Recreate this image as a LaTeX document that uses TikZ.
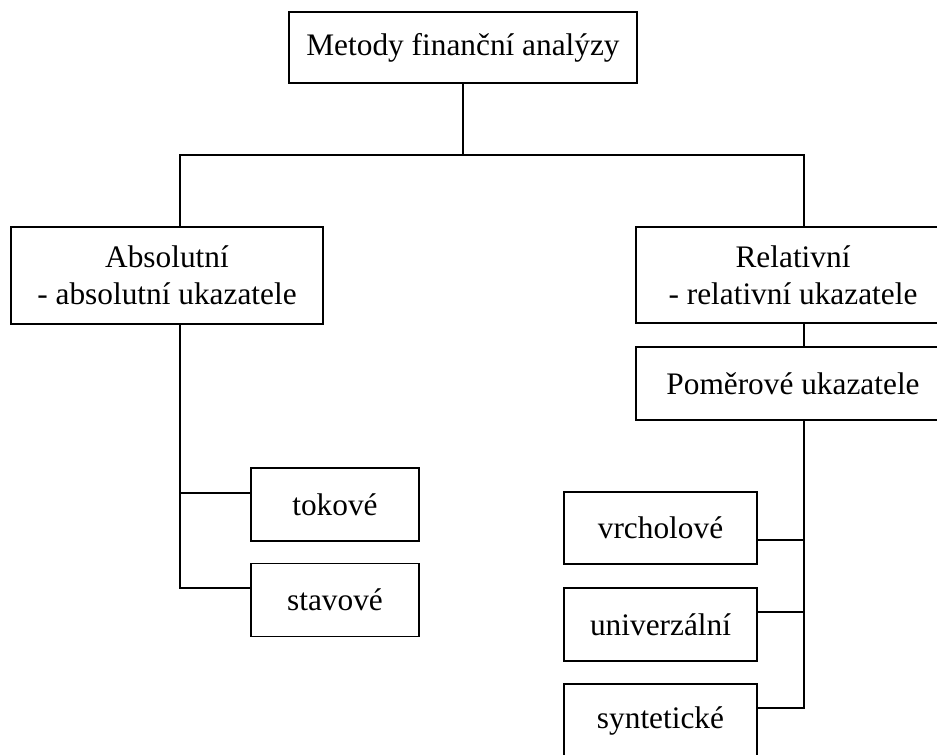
\documentclass[tikz,border=0pt]{standalone}
\usepackage{fontspec}
\setmainfont{Liberation Serif}
\begin{document}
\begin{tikzpicture}[x=0.75pt,y=-0.75pt,
  box/.style={draw, rectangle, line width=1.3pt, inner sep=0pt, align=center,
    font=\fontsize{23.5}{27.5}\selectfont},
  conn/.style={line width=1.3pt}]
\useasboundingbox (0,0) rectangle (937,754);
\clip (0,0) rectangle (937,754);

\node[box, minimum width=261pt, minimum height=53.25pt] (M) at (463,47.5) {Metody finanční analýzy};
\node[box, minimum width=234pt, minimum height=72.75pt] (A) at (167,275.5) {Absolutní\\- absolutní ukazatele};
\node[box, minimum width=235.5pt, minimum height=72pt] (R) at (793,275) {Relativní\\- relativní ukazatele};
\node[box, minimum width=235.5pt, minimum height=54.75pt] (P) at (793,383.5) {Poměrové ukazatele};

\node[box, minimum width=126pt, minimum height=54.75pt] (T) at (335,504.5) {tokové};
\node[box, minimum width=126pt, minimum height=54.75pt] (S) at (335,600) {stavové};

\node[box, minimum width=144.75pt, minimum height=54.5pt] (V) at (660.5,528) {vrcholové};
\node[box, minimum width=144.75pt, minimum height=54.5pt] (U) at (660.5,624.5) {univerzální};
\node[box, minimum width=144.75pt, minimum height=54.5pt] (Y) at (660.5,720.5) {syntetické};

\coordinate (L) at (180,155);
\coordinate (K) at (804,155);

\draw[conn] (M.south) -- (M.south |- L);
\draw[conn] (L |- A.north) -- (L) -- (K) -- (K |- R.north);
\draw[conn] (R.south -| K) -- (P.north -| K);

\draw[conn] (A.south -| L) |- ([yshift=9pt]S.west);
\draw[conn] ([yshift=8.6pt]T.west) -- ([yshift=8.6pt]T.west -| L);

\draw[conn] (P.south -| K) |- ([yshift=9.4pt]Y.east);
\draw[conn] ([yshift=-9pt]V.east) -- ([yshift=-9pt]V.east -| K);
\draw[conn] ([yshift=9.4pt]U.east) -- ([yshift=9.4pt]U.east -| K);
\end{tikzpicture}
\end{document}
